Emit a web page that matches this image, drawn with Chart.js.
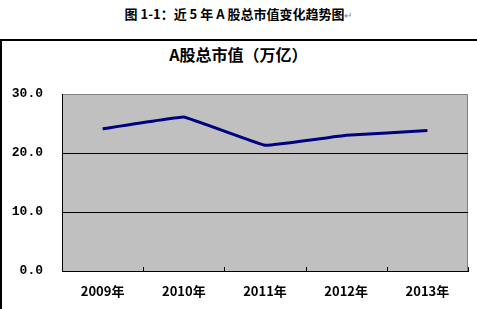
<!DOCTYPE html>
<html lang="zh-CN">
<head>
  <meta charset="UTF-8" />
  <title>A股总市值</title>
  <script src="https://cdn.jsdelivr.net/npm/chart.js"></script>
  <style>
    html, body {
      margin: 0;
      padding: 0;
      background: #fff;
      width: 477px;
      height: 309px;
      overflow: hidden;
      font-family: 'Noto Sans CJK SC', sans-serif;
    }

    .caption {
      position: absolute;
      left: 0;
      top: 5px;
      width: 477px;
      text-align: center;
      font-size: 13px;
      font-weight: bold;
      color: #000;
      line-height: 18px;
    }

    .caption .mark {
      font-weight: normal;
      color: #888;
      font-size: 10px;
    }

    .frame {
      position: absolute;
      left: 0;
      top: 39px;
      width: 490px;
      height: 300px;
      border-left: 2px solid #000;
      border-top: 2px solid #000;
    }

    .chart-title {
      position: absolute;
      left: 0;
      top: 44px;
      width: 477px;
      text-align: center;
      font-size: 16px;
      font-weight: bold;
      line-height: 20px;
      color: #000;
    }

    .wrap {
      position: absolute;
      left: 0;
      top: 0;
      width: 477px;
      height: 309px;
    }
  </style>
</head>
<body>

<div class="caption">图 1-1：近 5 年 A 股总市值变化趋势图<span class="mark">↵</span></div>
<div class="frame"></div>
<div class="chart-title">A股总市值（万亿）</div>
<div class="wrap"><canvas id="chart" width="477" height="309"></canvas></div>

<script>
const years = ['2009年', '2010年', '2011年', '2012年', '2013年'];
const marketCap = [24.1, 26.1, 21.3, 23.0, 23.8];
const yTicks = [0, 10, 20, 30];

// gray plot area + inward category tick marks, like the Excel original
const plotBox = {
  id: 'plotBox',
  beforeDraw(chart) {
    const { ctx, chartArea: a } = chart;
    ctx.save();
    ctx.fillStyle = '#c0c0c0';
    ctx.fillRect(a.left, a.top, a.right - a.left, a.bottom - a.top);
    ctx.strokeStyle = '#808080';
    ctx.lineWidth = 1;
    ctx.beginPath();
    ctx.moveTo(a.left, a.top + 0.5);
    ctx.lineTo(a.right - 0.5, a.top + 0.5);
    ctx.lineTo(a.right - 0.5, a.bottom);
    ctx.stroke();
    ctx.restore();
  },
  afterDatasetsDraw(chart) {
    const { ctx, chartArea: a, scales } = chart;
    const x = scales.x;
    ctx.save();
    ctx.strokeStyle = '#000';
    ctx.lineWidth = 1;
    ctx.beginPath();
    for (let i = 0; i <= years.length; i++) {
      const px = Math.round(x.getPixelForValue(i - 0.5)) + 0.5;
      ctx.moveTo(px, a.bottom);
      ctx.lineTo(px, a.bottom - 4);
    }
    ctx.stroke();
    ctx.restore();
  }
};

const tickFont = { family: "'Liberation Mono', 'DejaVu Sans Mono', monospace", size: 13, weight: 'bold' };

new Chart(document.getElementById('chart'), {
  type: 'line',
  data: {
    labels: years,
    datasets: [{
      data: marketCap,
      borderColor: '#000080',
      borderWidth: 3,
      pointRadius: 0,
      tension: 0.05,
      fill: false
    }]
  },
  options: {
    responsive: false,
    animation: false,
    layout: { padding: { left: 0, right: 9, top: 94, bottom: 0 } },
    plugins: {
      legend: { display: false },
      tooltip: { enabled: false },
      title: { display: false }
    },
    scales: {
      x: {
        offset: true,
        grid: { display: false, drawTicks: false },
        border: { display: true, color: '#000', width: 1 },
        ticks: {
          color: '#000',
          padding: 12,
          maxRotation: 0,
          font: { family: "'Noto Sans CJK SC', sans-serif", size: 13, weight: 'bold' }
        },
        afterFit(scale) { scale.height = 38; }
      },
      y: {
        min: 0,
        max: 30,
        afterBuildTicks(scale) { scale.ticks = yTicks.map(v => ({ value: v })); },
        grid: {
          color: (c) => (c.tick && c.tick.value > 0 && c.tick.value < 30) ? '#000' : 'rgba(0,0,0,0)',
          lineWidth: 1,
          drawTicks: false
        },
        border: { display: true, color: '#000', width: 1 },
        ticks: {
          color: '#000',
          padding: 19,
          font: tickFont,
          callback: (v) => Number(v).toFixed(1)
        },
        afterFit(scale) { scale.width = 62; }
      }
    }
  },
  plugins: [plotBox]
});
</script>

</body>
</html>
